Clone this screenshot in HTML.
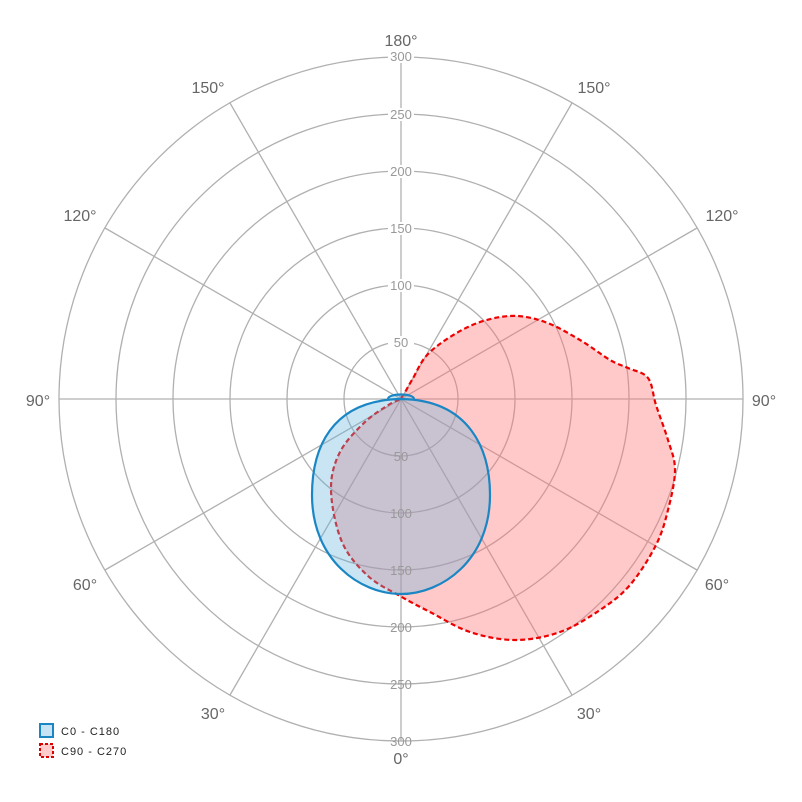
<!DOCTYPE html>
<html><head><style>body{margin:0;background:#fff}svg{display:block}</style></head>
<body>
<svg width="802" height="802" viewBox="0 0 802 802" xmlns="http://www.w3.org/2000/svg" font-family="Liberation Sans, sans-serif">
<g fill="none" stroke="#b0b0b0" stroke-width="1.3">
<circle cx="401" cy="399" r="57"/><circle cx="401" cy="399" r="114"/><circle cx="401" cy="399" r="171"/>
<circle cx="401" cy="399" r="228"/><circle cx="401" cy="399" r="285"/><circle cx="401" cy="399" r="342"/>
<line x1="401" y1="57" x2="401" y2="741"/><line x1="59" y1="399" x2="743" y2="399"/>
<line x1="230" y1="103" x2="572" y2="695"/><line x1="572" y1="103" x2="230" y2="695"/>
<line x1="105" y1="228" x2="697" y2="570"/><line x1="697" y1="228" x2="105" y2="570"/>
</g>
<path id="red" d="" fill="rgba(255,120,120,0.4)" stroke="#e00" stroke-width="2.2" stroke-dasharray="5,3"/>
<path d="M401,399 C 330,400 312,450 312,495 C 312,560 360,594 401,594 C 442,594 490,560 490,495 C 490,450 470,400 401,399 Z M388,399 C388,393 414,393 414,399" fill="rgba(100,180,220,0.35)" stroke="#1a86c4" stroke-width="2.2"/>
<g font-size="13" fill="#999" text-anchor="middle">
<g fill="#fff" stroke="none"><rect x="388" y="336" width="26" height="13"/><rect x="388" y="279" width="26" height="13"/><rect x="388" y="222" width="26" height="13"/><rect x="388" y="165" width="26" height="13"/><rect x="388" y="108" width="26" height="13"/><rect x="388" y="50" width="26" height="13"/></g>
<text x="401" y="347">50</text><text x="401" y="290">100</text><text x="401" y="233">150</text><text x="401" y="176">200</text><text x="401" y="119">250</text><text x="401" y="61">300</text>
<text x="401" y="461">50</text><text x="401" y="518">100</text><text x="401" y="575">150</text><text x="401" y="632">200</text><text x="401" y="689">250</text><text x="401" y="746">300</text>
</g>
<g font-size="16" fill="#666" text-anchor="middle">
<text x="401" y="46">180°</text><text x="208" y="93">150°</text><text x="594" y="93">150°</text>
<text x="80" y="221">120°</text><text x="722" y="221">120°</text>
<text x="38" y="406">90°</text><text x="764" y="406">90°</text>
<text x="85" y="590">60°</text><text x="717" y="590">60°</text>
<text x="213" y="719">30°</text><text x="589" y="719">30°</text>
<text x="401" y="764">0°</text>
</g>
<rect x="40" y="724" width="13" height="13" fill="#c8e4f4" stroke="#1a86c4" stroke-width="2"/>
<rect x="40" y="744" width="13" height="13" fill="#fcc" stroke="#d00" stroke-width="2" stroke-dasharray="3,2"/>
<g font-size="11" fill="#222" letter-spacing="1"><text x="61" y="735">C0 - C180</text><text x="61" y="755">C90 - C270</text></g>
</svg>
<script>
var p=[[401,398],[412,380],[430,352],[470,326],[510,316],[545,322],[580,340],[610,360],[628,368],[648,378],[656,405],[668,440],[675,470],[668,510],[656,545],[630,585],[600,610],[560,632],[515,640],[470,632],[430,612],[400,596],[368,576],[342,542],[331,490],[340,452],[365,422],[390,404]];
var n=p.length,d="M"+p[0][0]+","+p[0][1];
for(var i=0;i<n;i++){var a=p[(i-1+n)%n],b=p[i],c=p[(i+1)%n],e=p[(i+2)%n];
d+=" C"+(b[0]+(c[0]-a[0])/6).toFixed(1)+","+(b[1]+(c[1]-a[1])/6).toFixed(1)+" "+(c[0]-(e[0]-b[0])/6).toFixed(1)+","+(c[1]-(e[1]-b[1])/6).toFixed(1)+" "+c[0]+","+c[1];}
document.getElementById("red").setAttribute("d",d+"Z");
</script>
</body></html>
